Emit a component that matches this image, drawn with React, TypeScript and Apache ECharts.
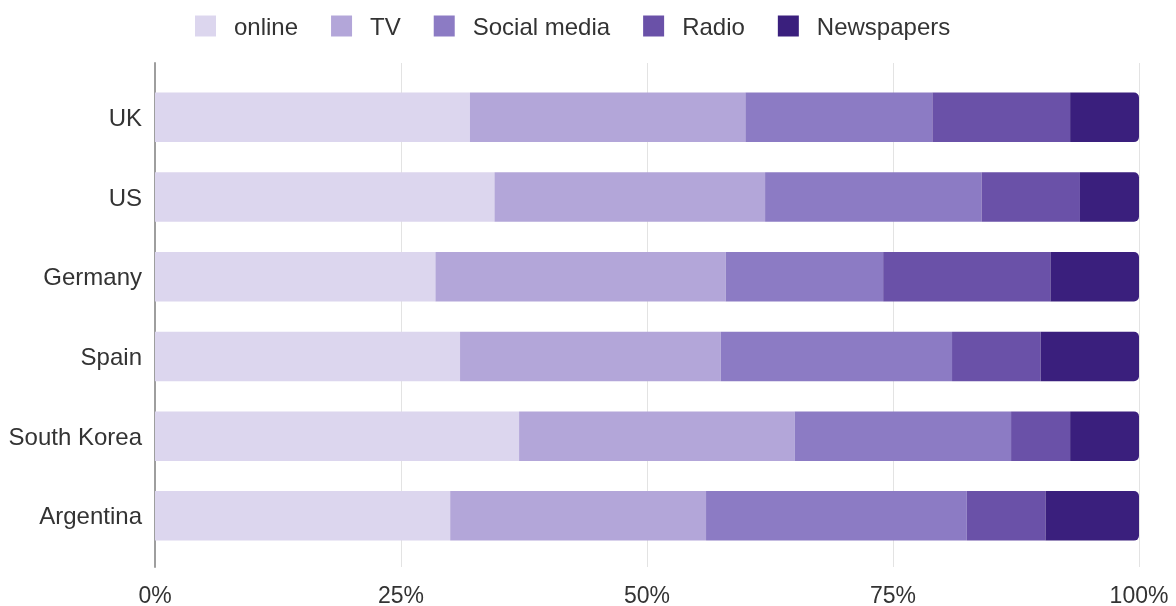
import React, { useEffect, useRef } from "react";
import * as echarts from "echarts";

const countries = ["UK", "US", "Germany", "Spain", "South Korea", "Argentina"];
const seriesNames = ["online", "TV", "Social media", "Radio", "Newspapers"];
const online = [32, 34.5, 28.5, 31, 37, 30];
const tv = [28, 27.5, 29.5, 26.5, 28, 26];
const socialMedia = [19, 22, 16, 23.5, 22, 26.5];
const radio = [14, 10, 17, 9, 6, 8];
const newspapers = [7, 6, 9, 10, 7, 9.5];
const xTicks = [0, 25, 50, 75, 100];
const colors = ["#dcd6ee", "#b3a6d9", "#8c7bc4", "#6a51a8", "#3a1f7d"];

export default function App() {
  const ref = useRef<HTMLDivElement>(null);
  useEffect(() => {
    if (!ref.current) return;
    const chart = echarts.init(ref.current, undefined, { renderer: "svg" });
    const values = [online, tv, socialMedia, radio, newspapers];
    const font = "'Liberation Sans', Arial, sans-serif";
    chart.setOption({
      animation: false,
      textStyle: { fontFamily: font },
      legend: {
        top: 9,
        left: 190,
        icon: "rect",
        itemWidth: 21,
        itemHeight: 21,
        itemGap: 33,
        textStyle: { fontSize: 24, color: "#333", fontFamily: font, padding: [0, 0, 0, 13] },
        data: seriesNames,
      },
      grid: [
        { left: 155, right: 37, top: 63, bottom: 39 },
        { left: 155, right: 37, top: 77.5, bottom: 50.3 },
      ],
      xAxis: [
        {
          gridIndex: 0,
          type: "value",
          min: xTicks[0],
          max: xTicks[xTicks.length - 1],
          interval: 25,
          axisLine: { show: false },
          axisTick: { show: false },
          axisLabel: {
            formatter: "{value}%",
            fontSize: 23,
            color: "#333",
            margin: 16,
            fontFamily: font,
          },
          splitLine: { show: true, lineStyle: { color: "#e3e3e3", width: 1 } },
        },
        {
          gridIndex: 1,
          type: "value",
          min: 0,
          max: 100,
          show: false,
        },
      ],
      yAxis: [
        {
          gridIndex: 0,
          type: "value",
          min: 0,
          max: 1,
          axisLine: { show: true, lineStyle: { color: "#9e9e9e", width: 2 } },
          axisTick: { show: false },
          axisLabel: { show: false },
          splitLine: { show: false },
        },
        {
          gridIndex: 1,
          type: "category",
          inverse: true,
          data: countries,
          axisLine: { show: false },
          axisTick: { show: false },
          axisLabel: { fontSize: 24, color: "#333", margin: 13, fontFamily: font },
          splitLine: { show: false },
        },
      ],
      series: seriesNames.map((name, i) => ({
        name,
        type: "bar",
        stack: "total",
        xAxisIndex: 1,
        yAxisIndex: 1,
        barWidth: 49.5,
        itemStyle: {
          color: colors[i],
          borderRadius: i === seriesNames.length - 1 ? [0, 5, 5, 0] : 0,
        },
        emphasis: { disabled: true },
        data: values[i],
      })),
    });
    return () => chart.dispose();
  }, []);
  return (
    <div
      ref={ref}
      style={{ position: "fixed", left: 0, top: 0, width: 1176, height: 606 }}
    />
  );
}
